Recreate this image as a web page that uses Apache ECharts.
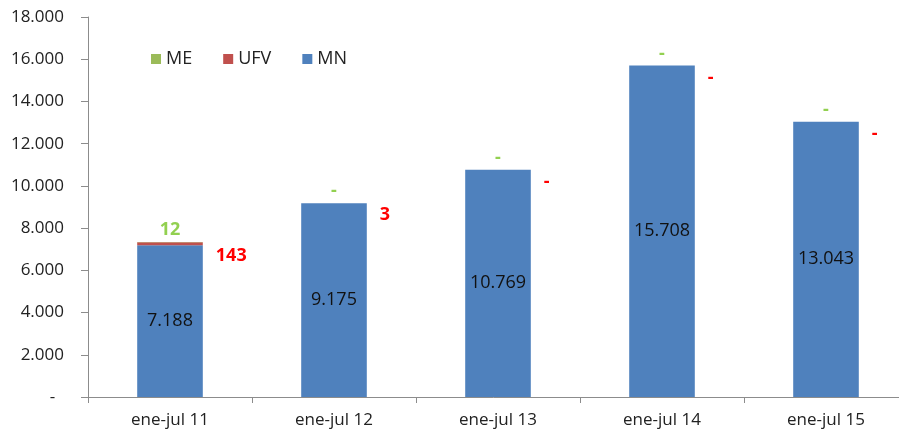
<!DOCTYPE html>
<html>
<head>
<meta charset="utf-8">
<script src="https://cdn.jsdelivr.net/npm/echarts@6/dist/echarts.min.js"></script>
<style>
  html, body { margin: 0; padding: 0; background: #fff; }
  #chart { width: 899px; height: 432px; }
</style>
</head>
<body>
<div id="chart"></div>
<script>
// datos
var categories = ["ene-jul 11", "ene-jul 12", "ene-jul 13", "ene-jul 14", "ene-jul 15"];
var mn = [7188, 9175, 10769, 15708, 13043];
var ufv = [143, 3, 0, 0, 0];
var me = [12, 0, 0, 0, 0];

var FONT = "'Open Sans', 'Liberation Sans', sans-serif";

// 7188 -> "7.188", 0 -> "-"
function fmt(v) {
  if (!v) return "-";
  return String(v).replace(/\B(?=(\d{3})+(?!\d))/g, ".");
}

var chart = echarts.init(document.getElementById("chart"));
chart.setOption({
  animation: false,
  textStyle: { fontFamily: FONT },
  legend: {
    data: ["ME", "UFV", "MN"],
    left: 146,
    top: 45,
    itemWidth: 10,
    itemHeight: 10,
    itemGap: 31,
    icon: "rect",
    textStyle: { fontSize: 18, color: "#222", fontFamily: FONT }
  },
  // la rejilla se sale un poco por la derecha, como en el original
  grid: { left: 88, width: 820, top: 17, bottom: 35, outerBoundsMode: "none" },
  xAxis: {
    type: "category",
    data: categories,
    axisLine: { lineStyle: { color: "#8c8c8c" } },
    axisTick: { show: true, length: 6, lineStyle: { color: "#8c8c8c" } },
    axisLabel: { fontSize: 17, color: "#222", margin: 15, fontFamily: FONT }
  },
  yAxis: {
    type: "value",
    min: 0,
    max: 18000,
    interval: 2000,
    splitLine: { show: false },
    axisLine: { show: true, lineStyle: { color: "#8c8c8c" } },
    axisTick: { show: true, length: 7, lineStyle: { color: "#8c8c8c" } },
    axisLabel: {
      fontSize: 17,
      color: "#222",
      margin: 24,
      fontFamily: FONT,
      formatter: function (v) { return v === 0 ? "-  " : fmt(v); }
    }
  },
  series: [
    {
      name: "MN",
      type: "bar",
      stack: "t",
      barWidth: "40%",
      data: mn,
      itemStyle: { color: "#4F81BD" },
      label: {
        show: true,
        position: "inside",
        fontSize: 18,
        color: "#111",
        fontFamily: FONT,
        formatter: function (p) { return fmt(p.value); }
      }
    },
    {
      name: "UFV",
      type: "bar",
      stack: "t",
      data: ufv,
      itemStyle: { color: "#C0504D" },
      label: {
        show: true,
        position: "right",
        distance: 13,
        offset: [0, 12],
        fontSize: 18,
        fontWeight: "bold",
        color: "#FF0000",
        fontFamily: FONT,
        formatter: function (p) { return fmt(p.value); }
      }
    },
    {
      name: "ME",
      type: "bar",
      stack: "t",
      data: me,
      itemStyle: { color: "#9BBB59" },
      label: {
        show: true,
        position: "top",
        distance: 3,
        fontSize: 18,
        fontWeight: "bold",
        color: "#92D050",
        fontFamily: FONT,
        formatter: function (p) { return fmt(p.value); }
      }
    }
  ]
});
</script>
</body>
</html>
